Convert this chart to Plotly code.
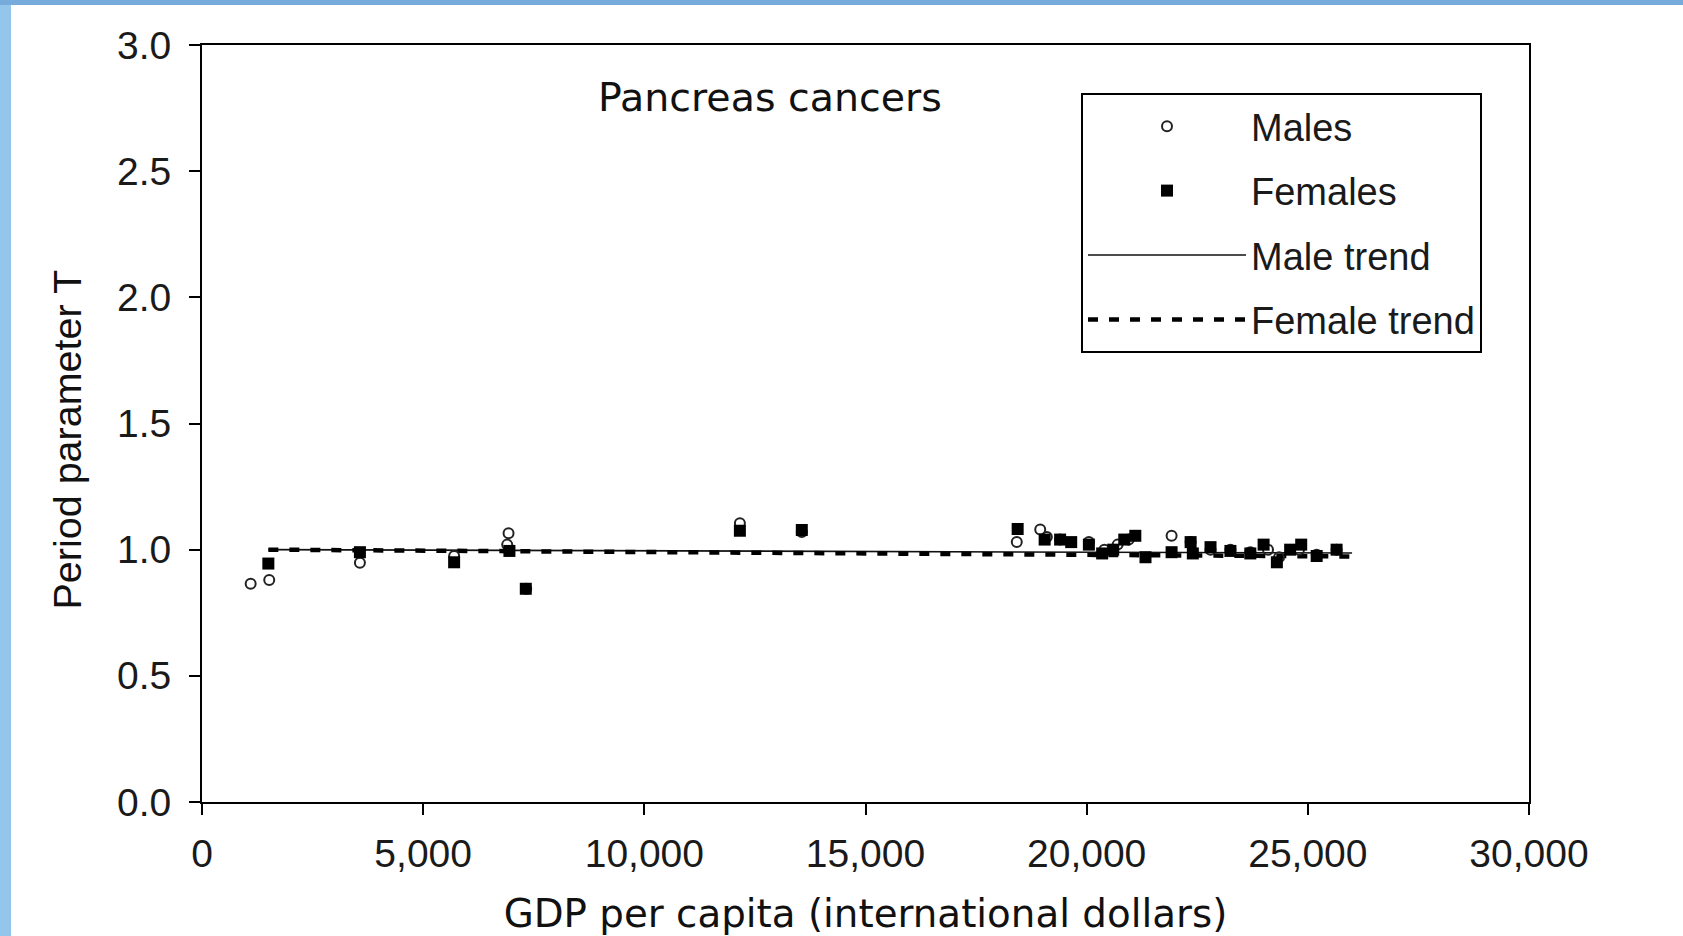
import plotly.graph_objects as go

# ---- data ----
male_gdp = [1100, 1520, 3570, 5700, 6930, 6900, 7330, 12160, 13560, 18420, 18950,
            19100, 19400, 20050, 20400, 20700, 20950, 21920, 22350, 22800, 23250,
            23700, 24100, 24350, 24800, 25200, 25650]
male_T = [0.865, 0.88, 0.948, 0.975, 1.065, 1.02, 0.845, 1.105, 1.07, 1.03, 1.08,
          1.05, 1.04, 1.03, 1.0, 1.02, 1.04, 1.055, 1.03, 1.0, 1.0,
          0.99, 1.0, 0.97, 1.0, 0.98, 1.0]

female_gdp = [1500, 3570, 5700, 6950, 7320, 12160, 13560, 18440, 19050, 19400, 19650,
              20050, 20350, 20600, 20850, 21100, 21330, 21920, 22350, 22400, 22800,
              23250, 23700, 24000, 24300, 24600, 24850, 25200, 25650]
female_T = [0.945, 0.99, 0.95, 0.995, 0.845, 1.075, 1.078, 1.082, 1.04, 1.04, 1.03,
            1.02, 0.985, 1.0, 1.04, 1.055, 0.97, 0.99, 1.03, 0.985, 1.01,
            0.995, 0.985, 1.02, 0.95, 1.0, 1.02, 0.975, 1.0]

male_trend_gdp = [1500, 26000]
male_trend_T = [1.0, 0.987]
female_trend_gdp = [1500, 26000]
female_trend_T = [1.0, 0.973]

x_ticks = [0, 5000, 10000, 15000, 20000, 25000, 30000]
x_tick_labels = ["0", "5,000", "10,000", "15,000", "20,000", "25,000", "30,000"]
y_ticks = [0.0, 0.5, 1.0, 1.5, 2.0, 2.5, 3.0]
y_tick_labels = ["0.0", "0.5", "1.0", "1.5", "2.0", "2.5", "3.0"]

FONT = "Liberation Sans, Arial, sans-serif"
WIDE = "DejaVu Sans, Verdana, sans-serif"
W, H = 1683, 936
L, R, T, B = 202, 154, 45, 134
pw, ph = W - L - R, H - T - B

fig = go.Figure()

fig.add_trace(go.Scatter(
    x=male_trend_gdp, y=male_trend_T, mode="lines", name="Male trend",
    line=dict(color="#111111", width=1.6), legendgroup="c", legendrank=3))
fig.add_trace(go.Scatter(
    x=female_trend_gdp, y=female_trend_T, mode="lines", name="Female trend",
    line=dict(color="#000000", width=4.5, dash="10px,11px"), legendgroup="d", legendrank=4))
fig.add_trace(go.Scatter(
    x=male_gdp, y=male_T, mode="markers", name="Males",
    marker=dict(symbol="circle-open", size=10, color="#222222", line=dict(width=2)),
    legendgroup="a", legendrank=1))
fig.add_trace(go.Scatter(
    x=female_gdp, y=female_T, mode="markers", name="Females",
    marker=dict(symbol="square", size=12, color="#000000", line=dict(width=0)),
    legendgroup="b", legendrank=2))

fig.update_layout(
    width=W, height=H,
    margin=dict(l=L, r=R, t=T, b=B, autoexpand=False),
    paper_bgcolor="white", plot_bgcolor="white",
    font=dict(family=FONT, size=38, color="#1a1a1a"),
    showlegend=True,
    legend=dict(
        x=(1081 - L) / pw, y=(H - B - 93) / ph, xanchor="left", yanchor="top",
        bgcolor="white", bordercolor="black", borderwidth=2,
        font=dict(family=FONT, size=38, color="#1a1a1a"),
        itemwidth=158, tracegroupgap=12, traceorder="grouped",
    ),
    annotations=[
        dict(text="Pancreas cancers", xref="paper", yref="paper",
             x=(770 - L) / pw, y=(H - B - 97) / ph, xanchor="center", yanchor="middle",
             showarrow=False, font=dict(family=WIDE, size=39.5, color="#111111")),
        dict(text="Period parameter T", xref="paper", yref="paper", textangle=-90,
             x=(66.5 - L) / pw, y=(H - B - 440) / ph, xanchor="center", yanchor="middle",
             showarrow=False, font=dict(family=FONT, size=39.5, color="#111111")),
    ],
    shapes=[
        dict(type="rect", xref="paper", yref="paper", layer="below",
             x0=-L / pw, x1=(11 - L) / pw, y0=-B / ph, y1=(H - B) / ph,
             fillcolor="#93c6ea", line=dict(width=0)),
        dict(type="rect", xref="paper", yref="paper", layer="below",
             x0=-L / pw, x1=(W - L) / pw, y0=(H - B - 5) / ph, y1=(H - B) / ph,
             fillcolor="#76abdb", line=dict(width=0)),
    ],
)

fig.update_xaxes(
    range=[0, 30000], tickvals=x_ticks, ticktext=x_tick_labels,
    showgrid=False, zeroline=False, showline=True, mirror=True,
    linecolor="black", linewidth=2, ticks="outside", ticklen=11, tickwidth=1.5,
    tickcolor="black", ticklabelstandoff=5, automargin=False,
    tickfont=dict(family=FONT, size=39, color="#1a1a1a"),
    title=dict(text="GDP per capita (international dollars)", standoff=28,
               font=dict(family=WIDE, size=38.8, color="#111111")),
)
fig.update_yaxes(
    range=[0, 3.0], tickvals=y_ticks, ticktext=y_tick_labels,
    showgrid=False, zeroline=False, showline=True, mirror=True,
    linecolor="black", linewidth=2, ticks="outside", ticklen=11, tickwidth=1.5,
    tickcolor="black", ticklabelstandoff=10, automargin=False,
    tickfont=dict(family=FONT, size=39, color="#1a1a1a"),
)

fig.write_html(
    "out.html",
    config={"displayModeBar": False},
    post_script="document.body.style.margin='0';document.body.style.overflow='hidden';",
)
